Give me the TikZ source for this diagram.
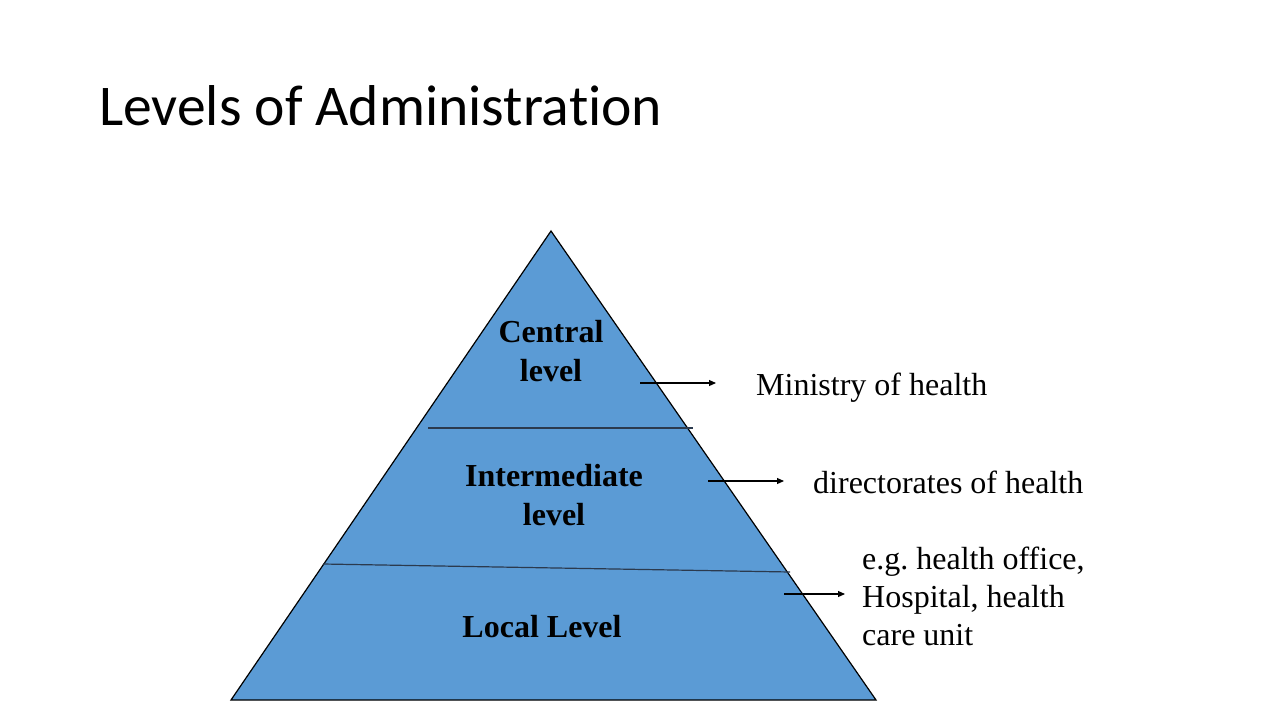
\documentclass[tikz,border=0pt]{standalone}
\usepackage{fontspec}
\setmainfont{Liberation Serif}
\newfontfamily\titlefont[Ligatures=NoCommon]{Carlito}
\usetikzlibrary{arrows.meta}
\frenchspacing
\definecolor{pyrfill}{HTML}{5B9BD5}
\definecolor{divline}{HTML}{2B3A4E}
\tikzset{
  lbl/.style={font=\fontsize{32}{38.4}\selectfont\bfseries, inner sep=0pt, anchor=base},
  note/.style={font=\fontsize{32}{38.4}\selectfont, inner sep=0pt, anchor=base west},
  pointer/.style={line width=1.1pt, -{Triangle[length=7pt,width=6pt]}},
  divider/.style={line width=1.2pt, draw=divline}
}
\begin{document}
\begin{tikzpicture}[x=1pt,y=-1pt]
\useasboundingbox (0,0) rectangle (1280,720);
\fill[white] (0,0) rectangle (1280,720);
\node[font=\titlefont\fontsize{57.6}{70}\selectfont, inner sep=0pt, anchor=base west] (title) at (99,125) {Levels of Administration};
% pyramid
\coordinate (apex) at (551,231);
\coordinate (bl) at (231,700);
\coordinate (br) at (876,700);
\draw[fill=pyrfill, line width=1.2pt, line join=miter] (apex) -- (bl) -- (br) -- cycle;
\coordinate (d1a) at (428,428);
\coordinate (d1b) at (693,428);
\coordinate (d2a) at (323,564);
\coordinate (d2b) at (790,572);
\draw[divider] (d1a) -- (d1b);
\draw[divider] (d2a) -- (d2b);
% labels
\node[lbl] (c1) at (551,342) {Central};
\node[lbl] (c2) at (551,381) {level};
\node[lbl] (i1) at (554,486) {Intermediate};
\node[lbl] (i2) at (554,525) {level};
\node[lbl] (l1) at (542,637) {Local Level};
% notes
\node[note] (n1) at (756,395) {Ministry of health};
\node[note] (n2) at (813,493) {directorates of health};
\node[note] (n3a) at (862,569) {e.g.\ health office,};
\node[note] (n3b) at (862,607) {Hospital, health};
\node[note] (n3c) at (862,645) {care unit};
% arrows
\coordinate (a1s) at (640,383); \coordinate (a1e) at (716,383);
\coordinate (a2s) at (708,481); \coordinate (a2e) at (784,481);
\coordinate (a3s) at (784,594); \coordinate (a3e) at (845,594);
\draw[pointer] (a1s) -- (a1e);
\draw[pointer] (a2s) -- (a2e);
\draw[pointer] (a3s) -- (a3e);
\end{tikzpicture}
\end{document}
